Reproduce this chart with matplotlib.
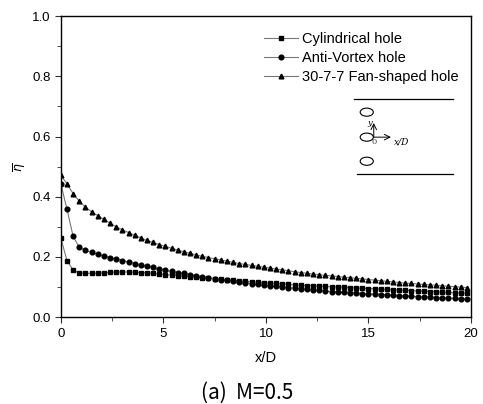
import numpy as np
import matplotlib.pyplot as plt
from matplotlib.patches import Ellipse

# x/D positions of the data points
xd = [0.0, 0.3, 0.6, 0.9, 1.2, 1.5, 1.8, 2.1, 2.4, 2.7, 3.0, 3.3, 3.6, 3.9, 4.2, 4.5, 4.8,
      5.1, 5.4, 5.7, 6.0, 6.3, 6.6, 6.9, 7.2, 7.5, 7.8, 8.1, 8.4, 8.7, 9.0, 9.3, 9.6, 9.9,
      10.2, 10.5, 10.8, 11.1, 11.4, 11.7, 12.0, 12.3, 12.6, 12.9, 13.2, 13.5, 13.8, 14.1,
      14.4, 14.7, 15.0, 15.3, 15.6, 15.9, 16.2, 16.5, 16.8, 17.1, 17.4, 17.7, 18.0, 18.3,
      18.6, 18.9, 19.2, 19.5, 19.8]

cyl = [0.262, 0.188, 0.156, 0.147, 0.146, 0.145, 0.146, 0.147, 0.149, 0.150, 0.150, 0.150,
       0.149, 0.148, 0.147, 0.145, 0.143, 0.141, 0.140, 0.138, 0.136, 0.135, 0.133, 0.131,
       0.129, 0.128, 0.126, 0.124, 0.123, 0.121, 0.119, 0.118, 0.116, 0.115, 0.113, 0.112,
       0.110, 0.109, 0.107, 0.106, 0.105, 0.104, 0.103, 0.102, 0.101, 0.100, 0.099, 0.098,
       0.097, 0.096, 0.095, 0.094, 0.093, 0.092, 0.091, 0.090, 0.089, 0.088, 0.087, 0.086,
       0.085, 0.084, 0.083, 0.082, 0.081, 0.080, 0.079]

avx = [0.443, 0.358, 0.268, 0.232, 0.222, 0.215, 0.209, 0.203, 0.198, 0.193, 0.188, 0.183,
       0.178, 0.173, 0.169, 0.165, 0.160, 0.156, 0.152, 0.148, 0.145, 0.141, 0.138, 0.134,
       0.131, 0.128, 0.125, 0.122, 0.119, 0.116, 0.114, 0.111, 0.109, 0.106, 0.104, 0.102,
       0.100, 0.098, 0.096, 0.094, 0.092, 0.090, 0.089, 0.087, 0.085, 0.084, 0.082, 0.081,
       0.080, 0.078, 0.077, 0.076, 0.075, 0.074, 0.072, 0.071, 0.070, 0.069, 0.068, 0.067,
       0.066, 0.065, 0.064, 0.063, 0.062, 0.061, 0.060]

fan = [0.471, 0.443, 0.410, 0.385, 0.365, 0.350, 0.337, 0.325, 0.312, 0.300, 0.290, 0.281,
       0.272, 0.263, 0.255, 0.248, 0.241, 0.235, 0.229, 0.223, 0.217, 0.212, 0.207, 0.202,
       0.198, 0.194, 0.190, 0.186, 0.182, 0.178, 0.175, 0.172, 0.169, 0.166, 0.163, 0.160,
       0.157, 0.154, 0.151, 0.148, 0.146, 0.143, 0.141, 0.139, 0.137, 0.135, 0.133, 0.131,
       0.129, 0.127, 0.125, 0.123, 0.121, 0.119, 0.117, 0.115, 0.113, 0.112, 0.110, 0.109,
       0.107, 0.106, 0.104, 0.103, 0.101, 0.100, 0.098]

labels = ['Cylindrical hole', 'Anti-Vortex hole', '30-7-7 Fan-shaped hole']

plt.rcParams['font.family'] = ['Liberation Sans', 'DejaVu Sans']

fig = plt.figure(figsize=(4.83, 4.04), dpi=100)
ax = fig.add_axes([0.126, 0.215, 0.849, 0.745])

for y, m, lab in zip([cyl, avx, fan], ['s', 'o', '^'], labels):
    ax.plot(xd, y, color='#777777', lw=0.8, marker=m, ms=3.4,
            mfc='black', mec='black', label=lab)

ax.set_xlim(0, 20)
ax.set_ylim(0, 1.0)
ax.set_xticks([0, 5, 10, 15, 20])
ax.set_xticks([2.5, 7.5, 12.5, 17.5], minor=True)
ax.set_yticks([0.0, 0.2, 0.4, 0.6, 0.8, 1.0])
ax.set_yticks([0.1, 0.3, 0.5, 0.7, 0.9], minor=True)
ax.tick_params(which='both', direction='out', labelsize=9.5, color='#333333')
ax.tick_params(which='major', length=4)
ax.tick_params(which='minor', length=3)
for s in ax.spines.values():
    s.set_linewidth(1.0)

ax.set_xlabel('x/D', fontsize=10.5, labelpad=8)
ax.set_ylabel(r'$\overline{\eta}$', fontsize=9, labelpad=3)

ax.legend(loc='upper right', frameon=False, fontsize=10.5, handlelength=2.3,
          handletextpad=0.3, labelspacing=0.33, bbox_to_anchor=(0.995, 0.98),
          borderaxespad=0.3)

# hole schematic
tr = ax.transAxes
ax.plot([0.715, 0.956], [0.724, 0.724], color='black', lw=0.9, transform=tr)
ax.plot([0.722, 0.956], [0.475, 0.475], color='black', lw=0.9, transform=tr)
for cy in [0.681, 0.598, 0.518]:
    ax.add_patch(Ellipse((0.746, cy), 0.032, 0.027, fill=False, ec='black', lw=0.8,
                         transform=tr))
ax.annotate('', xy=(0.763, 0.645), xytext=(0.763, 0.598), xycoords=tr,
            arrowprops=dict(arrowstyle='->', lw=0.7, color='black', shrinkA=0, shrinkB=0))
ax.annotate('', xy=(0.805, 0.598), xytext=(0.763, 0.598), xycoords=tr,
            arrowprops=dict(arrowstyle='->', lw=0.7, color='black', shrinkA=0, shrinkB=0))
ax.text(0.752, 0.645, 'y', transform=tr, fontsize=6, style='italic',
        family='DejaVu Serif', ha='center', va='center')
ax.text(0.764, 0.582, '0', transform=tr, fontsize=6, family='DejaVu Serif',
        ha='center', va='center', color='#444444')
ax.text(0.812, 0.583, 'x/D', transform=tr, fontsize=6.5, style='italic',
        family='DejaVu Serif', ha='left', va='center')

fig.text(0.512, 0.0, '(a)  M=0.5', fontsize=15, ha='center', va='bottom',
         family=['Noto Sans CJK KR', 'DejaVu Sans'])

fig.savefig('out.png', dpi=100)
